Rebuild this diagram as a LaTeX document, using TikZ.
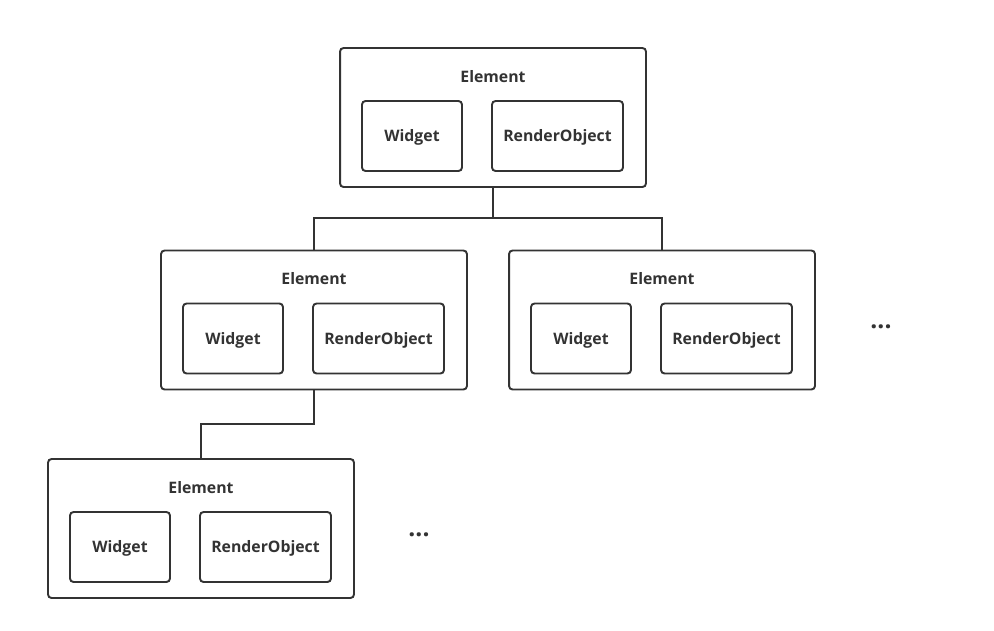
\documentclass[tikz,border=0pt]{standalone}
\usepackage{fontspec}
\setmainfont{Open Sans}
\usepackage{tikz}
\usetikzlibrary{positioning}
\usepackage{xcolor}
\definecolor{boxline}{RGB}{51,51,51}
\definecolor{boxtext}{RGB}{51,51,51}

\tikzset{
  outerbox/.style={draw=boxline, line width=1.1pt, rounded corners=2pt,
    minimum width=6.12cm, minimum height=2.78cm, inner sep=0pt},
  innerbox/.style={draw=boxline, line width=1.1pt, rounded corners=2pt,
    minimum height=1.4cm, inner sep=0pt, text=boxtext,
    text height=6.4pt, text depth=0pt,
    font=\bfseries\fontsize{9}{10}\selectfont},
  boxlabel/.style={text=boxtext, inner sep=0pt,
    text height=6.4pt, text depth=0pt,
    font=\bfseries\fontsize{9}{10}\selectfont},
  link/.style={draw=boxline, line width=1.1pt},
  moredots/.style={text=boxtext, inner sep=0pt,
    font=\bfseries\fontsize{14}{15}\selectfont}
}

\begin{document}
\begin{tikzpicture}[x=0.02cm, y=-0.02cm]
  \useasboundingbox (0,0) rectangle (994,630);

  % one element: outer box, title, widget and render object
  \def\elementbox#1#2#3{
    \node[outerbox] (#1) at (#2,#3) {};
    \node[boxlabel] (#1-title) at (#2,#3-41) {Element};
    \node[innerbox, minimum width=2cm] (#1-widget) at (#2-81,#3+18.5) {Widget};
    \node[innerbox, minimum width=2.62cm] (#1-render) at (#2+64.5,#3+18.5) {RenderObject};
  }

  % Elements
  \elementbox{root}{493}{117.5}
  \elementbox{left}{314}{320}
  \elementbox{right}{662}{320}
  \elementbox{leaf}{201}{528.5}

  % Ligações
  \coordinate (rootjoin) at (493,218);
  \coordinate (leftjoin) at (314,424);
  \draw[link] (root.south) -- (rootjoin) -| (left.north);
  \draw[link] (rootjoin) -| (right.north);
  \draw[link] (left.south) -- (leftjoin) -| (leaf.north);

  % Reticências
  \node[moredots] (rightdots) at (881,327) {...};
  \node[moredots] (leafdots) at (419,535) {...};
\end{tikzpicture}
\end{document}
